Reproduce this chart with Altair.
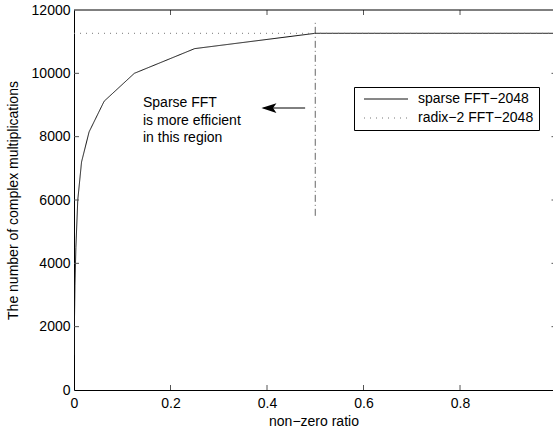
import altair as alt
import pandas as pd

# ---- data ----
sparse_x = [1/2048, 1/1024, 1/512, 1/256, 1/128, 1/64, 1/32, 1/16, 1/8, 1/4, 1/2, 1.0]
sparse_y = [1100, 2200, 3300, 4500, 6000, 7200, 8150, 9120, 10000, 10780, 11264, 11264]
radix_x = [0.0, 1.0]
radix_y = [11264, 11264]
series_names = ["sparse FFT\u22122048", "radix\u22122 FFT\u22122048"]

x_ticks = [0.0, 0.2, 0.4, 0.6, 0.8]
y_ticks = [0, 2000, 4000, 6000, 8000, 10000, 12000]

boundary_x = [0.5]
boundary_y = [5500]
boundary_y2 = [11600]

note_lines = ["Sparse FFT", "is more efficient", "in this region"]
note_x = [0.143, 0.143, 0.143]
note_y = [9063, 8495, 7958]

arrow_x = [0.479]
arrow_x2 = [0.393]
arrow_y = [8905]
arrowhead_x = [0.404]

# ---- layout ----
W, H = 479, 380
XMAX = 0.9927
FONT = "Liberation Sans"

lines = pd.DataFrame(
    {"x": sparse_x + radix_x,
     "y": sparse_y + radix_y,
     "series": [series_names[0]] * len(sparse_x) + [series_names[1]] * len(radix_x)}
)

xs = alt.Scale(domain=[0, XMAX], nice=False, zero=False)
ys = alt.Scale(domain=[0, 12000], nice=False)

x_axis = alt.Axis(values=x_ticks, format="~g", title="non\u2212zero ratio", grid=False,
                  ticks=False, tickSize=0, labelFlush=False, labelOverlap=False,
                  labelPadding=6, domainColor="black", labelColor="black",
                  titleBaseline="middle", titleY=31, titleFontWeight="normal")
y_axis = alt.Axis(values=y_ticks, format="d", title="The number of complex multiplications",
                  grid=False, ticks=False, tickSize=0, labelFlush=False, labelOverlap=False,
                  labelPadding=4, domainColor="black", labelColor="black",
                  titleBaseline="middle", titleX=-61, titleY=H / 2, titleFontWeight="normal")

line_layer = alt.Chart(lines).mark_line(clip=True, strokeWidth=1).encode(
    x=alt.X("x:Q", scale=xs, axis=x_axis),
    y=alt.Y("y:Q", scale=ys, axis=y_axis),
    color=alt.Color("series:N",
                    scale=alt.Scale(domain=series_names, range=["#111111", "#777777"]),
                    legend=alt.Legend(title=None, orient="none", legendX=280, legendY=77,
                                      strokeColor="black", fillColor="white", padding=5,
                                      cornerRadius=0, symbolType="M-4,0H4", symbolSize=121,
                                      symbolStrokeWidth=1, symbolOffset=20, labelOffset=25,
                                      rowPadding=5, labelFontSize=14, labelFont=FONT,
                                      labelColor="black")),
    strokeDash=alt.StrokeDash("series:N",
                              scale=alt.Scale(domain=series_names, range=[[1, 0], [1, 5]]),
                              legend=None),
    detail="series:N",
)

# merge dash into legend by using same legend on strokeDash instead
line_layer = line_layer.encode(
    strokeDash=alt.StrokeDash("series:N",
                              scale=alt.Scale(domain=series_names, range=[[1, 0], [1, 5]]),
                              legend=alt.Legend(title=None, orient="none", legendX=280, legendY=77,
                                                strokeColor="black", fillColor="white", padding=5,
                                                cornerRadius=0, symbolType="M-4,0H4", symbolSize=121,
                                                symbolStrokeWidth=1, symbolOffset=20, labelOffset=25,
                                                rowPadding=5, labelFontSize=14, labelFont=FONT,
                                                labelColor="black"))
)

bdf = pd.DataFrame({"x": boundary_x, "y": boundary_y, "y2": boundary_y2})
boundary = alt.Chart(bdf).mark_rule(color="#666666", strokeWidth=1, strokeDash=[7, 3, 1, 3]).encode(
    x=alt.X("x:Q", scale=xs), y=alt.Y("y:Q", scale=ys), y2="y2:Q"
)

ndf = pd.DataFrame({"x": note_x, "y": note_y, "t": note_lines})
notes = alt.Chart(ndf).mark_text(align="left", baseline="middle", font=FONT, fontSize=14,
                                 color="black").encode(
    x=alt.X("x:Q", scale=xs), y=alt.Y("y:Q", scale=ys), text="t:N"
)

adf = pd.DataFrame({"x": arrow_x, "x2": arrow_x2, "y": arrow_y, "hx": arrowhead_x})
arrow_shaft = alt.Chart(adf).mark_rule(color="black", strokeWidth=1).encode(
    x=alt.X("x:Q", scale=xs), x2="x2:Q", y=alt.Y("y:Q", scale=ys)
)
arrow_head = alt.Chart(adf).mark_point(shape="M-1,0L1,-0.65L0.55,0L1,0.65Z", filled=True,
                                       color="black", size=225, opacity=1).encode(
    x=alt.X("hx:Q", scale=xs), y=alt.Y("y:Q", scale=ys)
)

xt = pd.DataFrame({"x": x_ticks[1:]})
yt = pd.DataFrame({"y": y_ticks[1:-1]})
tick_col = "#555555"
bottom_ticks = alt.Chart(xt).mark_rule(color=tick_col).encode(
    x=alt.X("x:Q", scale=xs), y=alt.value(H), y2=alt.value(H - 5))
top_ticks = alt.Chart(xt).mark_rule(color=tick_col).encode(
    x=alt.X("x:Q", scale=xs), y=alt.value(0), y2=alt.value(5))
left_ticks = alt.Chart(yt).mark_rule(color=tick_col).encode(
    y=alt.Y("y:Q", scale=ys), x=alt.value(0), x2=alt.value(5))
right_ticks = alt.Chart(yt).mark_rule(color=tick_col).encode(
    y=alt.Y("y:Q", scale=ys), x=alt.value(W - 1.5), x2=alt.value(W))
top_border = alt.Chart(pd.DataFrame({"a": [0]})).mark_rule(color="black", strokeWidth=1).encode(
    x=alt.value(0), x2=alt.value(W), y=alt.value(0))

chart = alt.layer(
    boundary, line_layer, notes, arrow_shaft, arrow_head,
    bottom_ticks, top_ticks, left_ticks, right_ticks, top_border,
).properties(
    width=W, height=H,
    autosize=alt.AutoSizeParams(type="none"),
    padding={"left": 74, "top": 10, "right": 0, "bottom": 42},
    background="white",
).configure_view(stroke=None).configure_axis(
    labelFont=FONT, titleFont=FONT, labelFontSize=14, titleFontSize=14, domainWidth=1
)

chart.save("out.html", embed_options={"renderer": "svg", "actions": False})
